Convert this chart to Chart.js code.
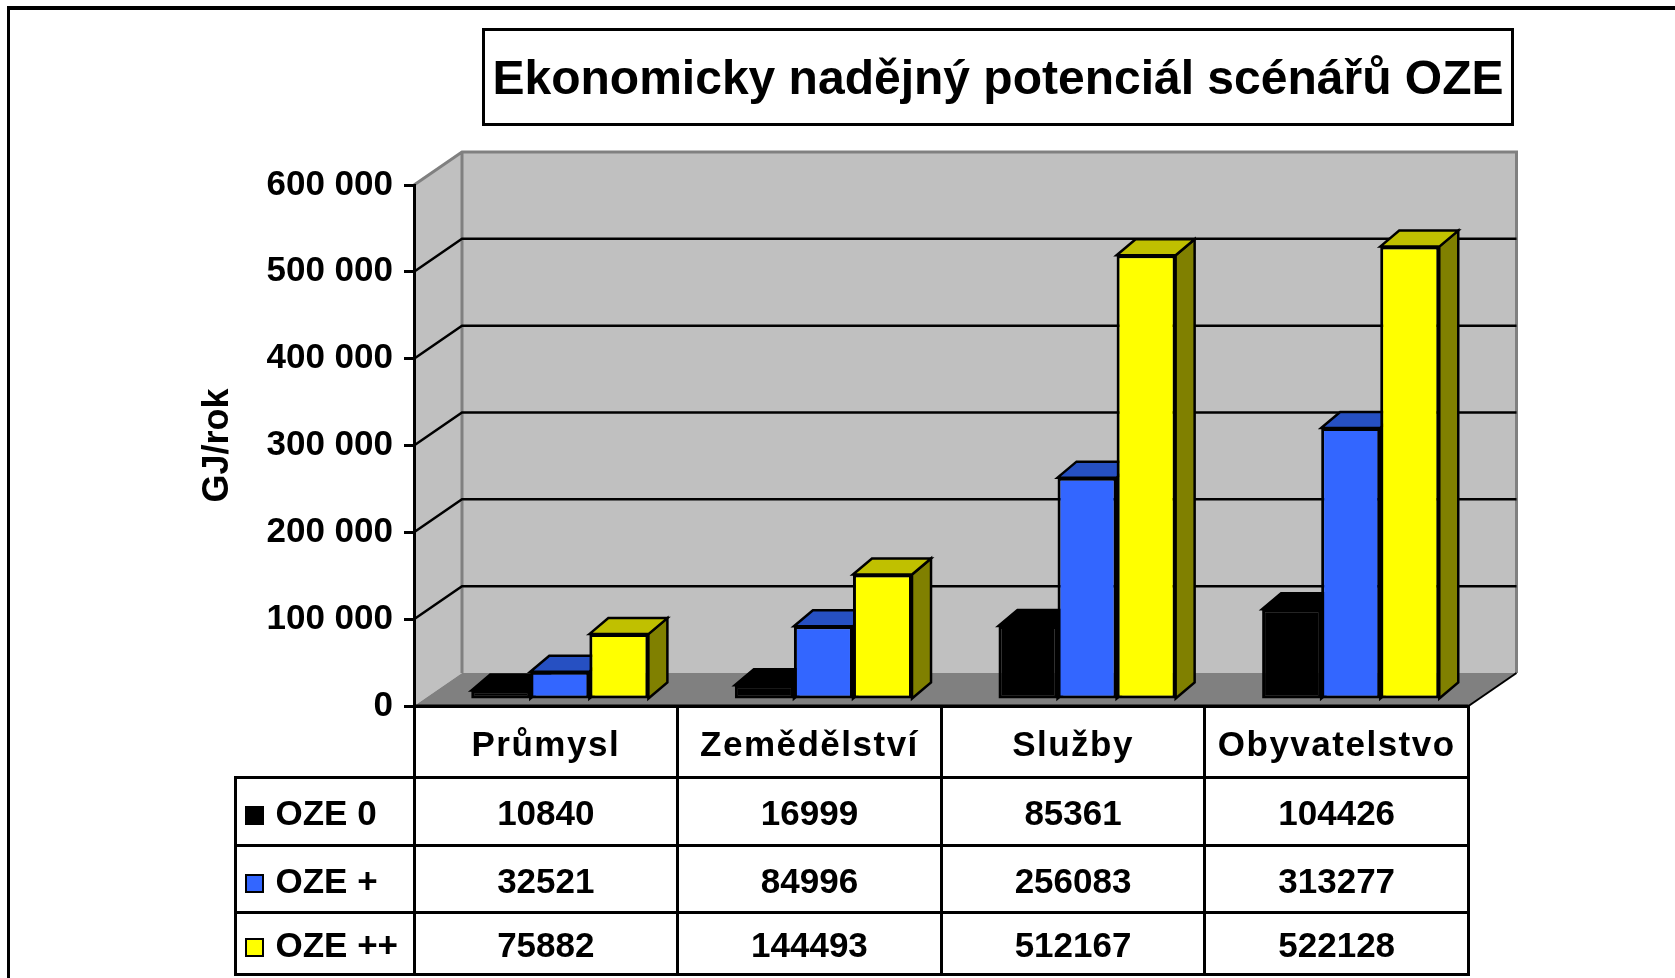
<!DOCTYPE html>
<html>
<head>
<meta charset="utf-8">
<script src="https://cdn.jsdelivr.net/npm/chart.js@4.4.1/dist/chart.umd.min.js"></script>
<style>
    body { margin: 0; background: #fff; }
    #wrap { position: relative; width: 1675px; height: 978px; overflow: hidden; font-family: "Liberation Sans", Arial, sans-serif; }
    #frame { position: absolute; left: 7px; top: 6px; right: -10px; bottom: -10px; border-top: 4px solid #000; border-left: 3px solid #000; }
    #title { position: absolute; left: 482px; top: 28px; width: 1032px; height: 98px; box-sizing: border-box; border: 3px solid #000;
        display: flex; align-items: center; justify-content: center; font-weight: bold; font-size: 48px; color: #000; }
    #table { position: absolute; border-collapse: collapse; table-layout: fixed; font-weight: bold; color: #000; }
    #table td { border: 3px solid #000; padding: 4px 0 0 0; text-align: center; font-size: 35px; white-space: nowrap; }
    #table tr.head td { height: 64px; letter-spacing: 1.5px; }
    #table td.corner { border-top: hidden; border-left: hidden; }
    #table td.key { text-align: left; padding-left: 8px; }
    #table .sw { display: inline-block; width: 15px; height: 15px; border: 2px solid #000; margin-right: 12px; vertical-align: 0px; }
</style>
</head>
<body>
<div id="wrap">
    <canvas id="chart" width="1675" height="978"></canvas>
    <div id="frame"></div>
    <div id="title">Ekonomicky nadějný potenciál scénářů OZE</div>
    <table id="table"></table>
</div>
<script>
    // data
    const categories = ['Průmysl', 'Zemědělství', 'Služby', 'Obyvatelstvo'];
    const seriesNames = ['OZE 0', 'OZE +', 'OZE ++'];
    const oze0 = [10840, 16999, 85361, 104426];
    const ozePlus = [32521, 84996, 256083, 313277];
    const ozePlusPlus = [75882, 144493, 512167, 522128];
    const yMax = 600000;
    const yStep = 100000;
    const yTitle = 'GJ/rok';

    // 3d look
    const WALL_DX = 48, WALL_DY = -33;     // depth of the floor / side wall
    const BAR_DX = 19, BAR_DY = -16;       // depth of a column
    const SHIFT_X = 14, SHIFT_Y = -6;      // columns sit a bit behind the front edge
    const LEGEND_LEFT = 235;
    const rowHeights = [61, 60, 55];

    const colors = ['#000000', '#3366FF', '#FFFF00'];
    const topColors = ['#000000', '#2650C2', '#C0C000'];
    const sideColors = ['#000000', '#1E3C96', '#808000'];
    const values = [oze0, ozePlus, ozePlusPlus];

    function fmt(v) {
        return String(v).replace(/\B(?=(\d{3})+(?!\d))/g, ' ');
    }

    const wall3d = {
        id: 'wall3d',
        beforeDraw(chart) {
            const {ctx, chartArea: a, scales: {y}} = chart;
            const top = y.getPixelForValue(yMax);
            const bot = y.getPixelForValue(0);
            const L = a.left, R = a.right;

            ctx.save();
            // back wall
            ctx.fillStyle = '#C0C0C0';
            ctx.fillRect(L + WALL_DX, top + WALL_DY, R - L, bot - top);
            // side wall
            ctx.beginPath();
            ctx.moveTo(L, top);
            ctx.lineTo(L + WALL_DX, top + WALL_DY);
            ctx.lineTo(L + WALL_DX, bot + WALL_DY);
            ctx.lineTo(L, bot);
            ctx.closePath();
            ctx.fill();
            // floor
            ctx.fillStyle = '#808080';
            ctx.beginPath();
            ctx.moveTo(L, bot);
            ctx.lineTo(L + WALL_DX, bot + WALL_DY);
            ctx.lineTo(R + WALL_DX, bot + WALL_DY);
            ctx.lineTo(R, bot);
            ctx.closePath();
            ctx.fill();

            // gray edges
            ctx.strokeStyle = '#808080';
            ctx.lineWidth = 3;
            ctx.beginPath();
            ctx.moveTo(L, top);
            ctx.lineTo(L + WALL_DX, top + WALL_DY);
            ctx.lineTo(R + WALL_DX, top + WALL_DY);
            ctx.lineTo(R + WALL_DX, bot + WALL_DY);
            ctx.moveTo(L + WALL_DX, top + WALL_DY);
            ctx.lineTo(L + WALL_DX, bot + WALL_DY);
            ctx.stroke();

            // grid lines on walls
            ctx.strokeStyle = '#000';
            ctx.lineWidth = 2.5;
            for (let v = yStep; v < yMax; v += yStep) {
                const py = y.getPixelForValue(v);
                ctx.beginPath();
                ctx.moveTo(L, py);
                ctx.lineTo(L + WALL_DX, py + WALL_DY);
                ctx.lineTo(R + WALL_DX, py + WALL_DY);
                ctx.stroke();
            }
            // front edge of floor
            ctx.lineWidth = 2;
            ctx.beginPath();
            ctx.moveTo(R, bot);
            ctx.lineTo(R + WALL_DX, bot + WALL_DY);
            ctx.stroke();
            ctx.lineWidth = 3;
            ctx.beginPath();
            ctx.moveTo(L, bot);
            ctx.lineTo(R, bot);
            ctx.stroke();
            ctx.restore();
        },
        beforeDatasetsDraw(chart) {
            const ctx = chart.ctx;
            ctx.save();
            ctx.translate(SHIFT_X, SHIFT_Y);
            ctx.strokeStyle = '#000';
            ctx.lineWidth = 2.5;
            chart.data.datasets.forEach((ds, i) => {
                chart.getDatasetMeta(i).data.forEach(bar => {
                    const {x, y, base, width} = bar.getProps(['x', 'y', 'base', 'width'], true);
                    const l = x - width / 2, r = x + width / 2;
                    // side
                    ctx.fillStyle = sideColors[i];
                    ctx.beginPath();
                    ctx.moveTo(r, y);
                    ctx.lineTo(r + BAR_DX, y + BAR_DY);
                    ctx.lineTo(r + BAR_DX, base + BAR_DY);
                    ctx.lineTo(r, base);
                    ctx.closePath();
                    ctx.fill();
                    ctx.stroke();
                    // top
                    ctx.fillStyle = topColors[i];
                    ctx.beginPath();
                    ctx.moveTo(l, y);
                    ctx.lineTo(l + BAR_DX, y + BAR_DY);
                    ctx.lineTo(r + BAR_DX, y + BAR_DY);
                    ctx.lineTo(r, y);
                    ctx.closePath();
                    ctx.fill();
                    ctx.stroke();
                });
            });
        },
        afterDatasetsDraw(chart) {
            chart.ctx.restore();
        }
    };

    const chart = new Chart(document.getElementById('chart'), {
        type: 'bar',
        data: {
            labels: categories,
            datasets: seriesNames.map((name, i) => ({
                label: name,
                data: values[i],
                backgroundColor: colors[i],
                borderColor: '#000',
                borderWidth: 3,
                borderSkipped: false,
                categoryPercentage: 0.672,
                barPercentage: 1.0
            }))
        },
        options: {
            responsive: false,
            devicePixelRatio: 1,
            animation: false,
            events: [],
            layout: {padding: {top: 185, bottom: 272, left: 0, right: 206.5}},
            plugins: {legend: {display: false}, tooltip: {enabled: false}},
            scales: {
                x: {display: false},
                y: {
                    min: 0,
                    max: yMax,
                    afterFit(scale) { scale.width = 414; },
                    border: {display: true, color: '#000', width: 3},
                    grid: {drawOnChartArea: false, drawTicks: true, tickLength: 10, color: '#000', lineWidth: 3},
                    ticks: {
                        stepSize: yStep,
                        padding: 11,
                        color: '#000',
                        font: {family: '"Liberation Sans", Arial, sans-serif', size: 35, weight: 'bold'},
                        callback: v => fmt(v)
                    },
                    title: {
                        display: true,
                        text: yTitle,
                        color: '#000',
                        padding: {top: 196, bottom: 0},
                        font: {family: '"Liberation Sans", Arial, sans-serif', size: 36, weight: 'bold'}
                    }
                }
            }
        },
        plugins: [wall3d]
    });

    // data table under the plot, columns follow the category scale
    function buildTable() {
        const a = chart.chartArea;
        const colW = (a.right - a.left) / categories.length;
        const tbl = document.getElementById('table');
        tbl.style.left = (LEGEND_LEFT - 1.5) + 'px';
        tbl.style.top = (a.bottom - 1.5) + 'px';
        tbl.style.width = (a.right - LEGEND_LEFT + 3) + 'px';
        let html = '<colgroup><col style="width:' + (a.left - LEGEND_LEFT) + 'px">';
        categories.forEach(() => html += '<col style="width:' + colW + 'px">');
        html += '</colgroup>';
        html += '<tr class="head"><td class="corner"></td>' + categories.map(c => '<td>' + c + '</td>').join('') + '</tr>';
        seriesNames.forEach((name, i) => {
            html += '<tr><td class="key" style="height:' + rowHeights[i] + 'px"><span class="sw" style="background:' + colors[i] + '"></span>' + name + '</td>';
            html += values[i].map(v => '<td>' + v + '</td>').join('') + '</tr>';
        });
        tbl.innerHTML = html;
    }
    buildTable();
</script>
</body>
</html>
